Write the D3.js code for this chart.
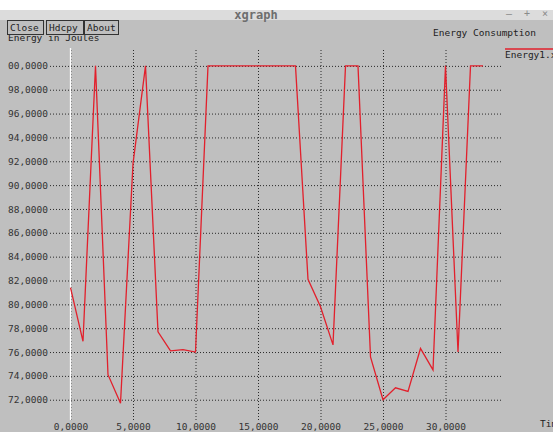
<!DOCTYPE html>
<html>
<head>
<meta charset="utf-8">
<script src="https://cdn.jsdelivr.net/npm/d3@7/dist/d3.min.js"></script>
<style>
  body { margin: 0; background: #fff; }
  text { font-family: "DejaVu Sans Mono", monospace; }
</style>
</head>
<body>
<script>
// time values and energy
const times = [0, 1, 2, 3, 4, 5, 6, 7, 8, 9, 10, 11, 12, 13, 14, 15, 16, 17, 18,
               19, 20, 21, 22, 23, 24, 25, 26, 27, 28, 29, 30, 31, 32, 33];
const energy = [81.4, 76.9, 100, 74.1, 71.7, 91.8, 100, 77.7, 76.1, 76.2, 76.0,
                100, 100, 100, 100, 100, 100, 100, 100,
                82.1, 79.8, 76.6, 100, 100, 75.6, 72.0, 73.0, 72.7, 76.3, 74.5,
                100, 76.0, 100, 100];
const xTicks = [0, 5, 10, 15, 20, 25, 30];
const yTicks = [72, 74, 76, 78, 80, 82, 84, 86, 88, 90, 92, 94, 96, 98, 100];

const W = 553, H = 432;
const fmt = d => d3.format(".4f")(d).replace(".", ",");

const svg = d3.select("body").append("svg")
    .attr("width", W)
    .attr("height", H);

// xgraph clips the y labels to a fixed width, so "100,0000" loses its first digit
// (rect is in the axis group's space, which is shifted 50px right)
svg.append("defs").append("clipPath").attr("id", "ylab")
    .append("rect").attr("x", -42).attr("y", 40).attr("width", 600).attr("height", 400);

// window background
svg.append("rect").attr("width", W).attr("height", H).attr("fill", "#bfbfbf");

// title bar
svg.append("rect").attr("y", 10).attr("width", W).attr("height", 10).attr("fill", "#dcdcdc");
svg.append("text").attr("x", 256).attr("y", 19).attr("text-anchor", "middle")
    .attr("font-size", 12).attr("font-weight", "bold").attr("fill", "#6e6e6e")
    .text("xgraph");
svg.append("text").attr("x", 527).attr("y", 17).attr("text-anchor", "middle")
    .attr("font-size", 10).attr("fill", "#8a8a8a").attr("xml:space", "preserve")
    .text("\u2013  +  \u00d7");
svg.append("rect").attr("width", W).attr("height", 10).attr("fill", "#fff");

// scales
let x = d3.scaleLinear().domain([-1.64, 34.6]).range([50, 503]);
let y = d3.scaleLinear().domain([70.3, 101.5]).range([420, 48]);

// y grid + labels
let yAxis = svg.append("g")
    .attr("transform", "translate(50,0)")
    .call(d3.axisLeft(y).tickValues(yTicks).tickSize(-453).tickPadding(2).tickFormat(fmt));

// x grid + labels
let xAxis = svg.append("g")
    .attr("transform", "translate(0,420)")
    .call(d3.axisBottom(x).tickValues(xTicks).tickSize(-372).tickPadding(3).tickFormat(fmt));

[xAxis, yAxis].forEach(a => {
    a.select(".domain").remove();
    a.selectAll(".tick line")
        .attr("stroke", "#2a2a2a")
        .attr("stroke-dasharray", "1,2");
    a.selectAll(".tick text")
        .attr("fill", "#333")
        .style("font-size", "9.5px")
        .style("font-family", "'DejaVu Sans Mono', monospace");
});
yAxis.attr("clip-path", "url(#ylab)");

// zero axis
svg.append("line")
    .attr("x1", x(0)).attr("x2", x(0))
    .attr("y1", 48).attr("y2", 420)
    .attr("stroke", "#fff").attr("stroke-width", 1.3);

// data line
let dataset = times.map((t, i) => ({ t: t, v: energy[i] }));
let line = d3.line().x(d => x(d.t)).y(d => y(d.v));
svg.append("path")
    .datum(dataset)
    .attr("fill", "none")
    .attr("stroke", "#e2202c")
    .attr("stroke-width", 1.3)
    .attr("d", line);

// axis titles
svg.append("text").attr("x", 8).attr("y", 41)
    .attr("font-size", 9.5).attr("fill", "#222")
    .text("Energy in Joules");
svg.append("text").attr("x", 433).attr("y", 36)
    .attr("font-size", 9.5).attr("fill", "#222")
    .text("Energy Consumption");
svg.append("text").attr("x", 540).attr("y", 427)
    .attr("font-size", 9.5).attr("fill", "#222")
    .text("Time");

// buttons
const buttons = [["Close", 7, 36], ["Hdcpy", 46, 37], ["About", 84, 34]];
buttons.forEach(b => {
    svg.append("rect")
        .attr("x", b[1] + 0.5).attr("y", 20.5)
        .attr("width", b[2]).attr("height", 14)
        .attr("fill", "#bfbfbf").attr("stroke", "#333");
    svg.append("text")
        .attr("x", b[1] + 3).attr("y", 31)
        .attr("font-size", 9.5).attr("fill", "#222")
        .text(b[0]);
});

// legend
svg.append("line")
    .attr("x1", 505).attr("x2", W)
    .attr("y1", 49).attr("y2", 49)
    .attr("stroke", "#e2202c").attr("stroke-width", 1.3);
svg.append("text").attr("x", 505).attr("y", 58)
    .attr("font-size", 9.5).attr("fill", "#222")
    .text("Energy1.xg");
</script>
</body>
</html>
